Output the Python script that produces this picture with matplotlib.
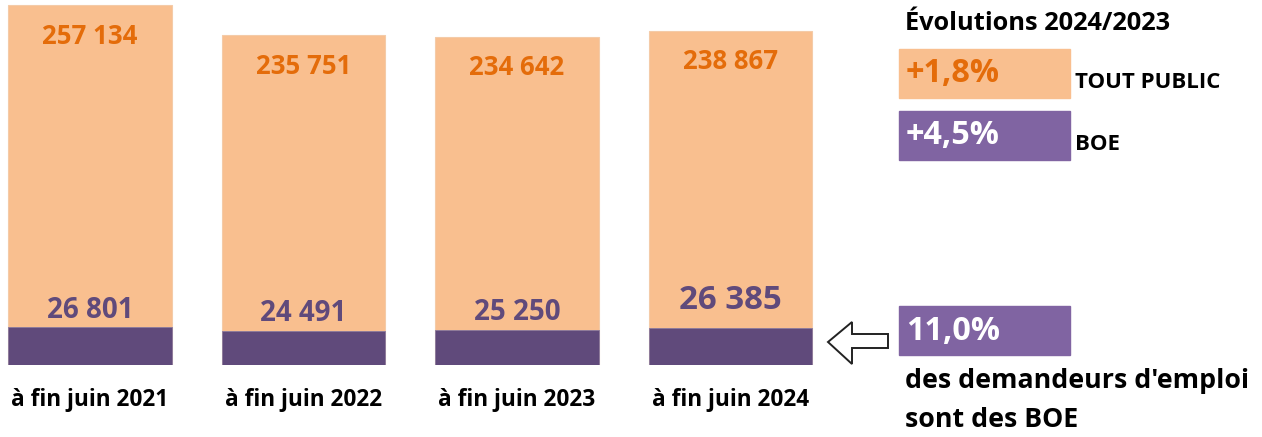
import matplotlib
matplotlib.use("Agg")
import matplotlib.pyplot as plt
from matplotlib.patches import Rectangle, Polygon

# Data
periods = ["à fin juin 2021", "à fin juin 2022", "à fin juin 2023", "à fin juin 2024"]
total_public = [257134, 235751, 234642, 238867]
boe = [26801, 24491, 25250, 26385]
evol_values = ["+1,8%", "+4,5%"]
evol_names = ["TOUT PUBLIC", "BOE"]
boe_share = "11,0%"

ORANGE_FILL = "#F9BF8F"
ORANGE_TEXT = "#E46C0A"
PURPLE_DARK = "#604A7B"
PURPLE_BOX = "#8064A2"

W, H = 1262, 437
plt.rcParams["font.family"] = ["Open Sans", "DejaVu Sans"]
plt.rcParams["font.weight"] = "bold"

fig = plt.figure(figsize=(W / 100, H / 100), dpi=100)


def fx(px):
    return px / W


def fy(py):
    return 1 - py / H


# Bars axes (pixel frame: x 0..830, y 0..365)
ax = fig.add_axes([0, fy(365), fx(830), 365 / H])
step = 213.5
ax.set_xlim(-90 / step, -90 / step + 830 / step)
ax.set_ylim(0, 365 / 0.0014)
ax.axis("off")

x = list(range(len(periods)))
ax.bar(x, total_public, width=0.768, color=ORANGE_FILL, edgecolor="#F4CBA8", linewidth=0.8)
ax.bar(x, boe, width=0.768, color=PURPLE_DARK, edgecolor="#8A7A9E", linewidth=0.6)

for i in x:
    ax.annotate(f"{total_public[i]:,}".replace(",", " "), (i, total_public[i]),
                xytext=(0, -22.5), textcoords="offset points", ha="center", va="center",
                fontsize=18.5, color=ORANGE_TEXT, fontweight="bold")
    big = i == len(x) - 1
    ax.annotate(f"{boe[i]:,}".replace(",", " "), (i, boe[i]),
                xytext=(0, 19.5 if big else 12.5), textcoords="offset points",
                ha="center", va="center", fontsize=23.8 if big else 20,
                color=PURPLE_DARK, fontweight="bold")
    ax.annotate(periods[i], (i, 0), xytext=(0, -25.5), textcoords="offset points",
                ha="center", va="center", fontsize=16.3, color="black",
                fontweight="bold", annotation_clip=False)

# Right-hand panel
fig.text(fx(905), fy(24), "Évolutions 2024/2023", ha="left", va="center",
         fontsize=18.3, fontweight="bold", color="black")

box_tops = [49, 111]
box_fill = [ORANGE_FILL, PURPLE_BOX]
box_text = [ORANGE_TEXT, "white"]
for k in range(2):
    top = box_tops[k]
    fig.patches.append(Rectangle((fx(899), fy(top + 49)), fx(171), 49 / H,
                                 transform=fig.transFigure, color=box_fill[k]))
    fig.text(fx(906), fy(top + 25), evol_values[k], ha="left", va="center",
             fontsize=23.3, fontweight="bold", color=box_text[k])
    fig.text(fx(1075), fy(top + 34), evol_names[k], ha="left", va="center",
             fontsize=16, fontweight="bold", color="black")

fig.patches.append(Rectangle((fx(899), fy(355)), fx(171), 49 / H,
                             transform=fig.transFigure, color=PURPLE_BOX))
fig.text(fx(906), fy(331), boe_share, ha="left", va="center",
         fontsize=23.3, fontweight="bold", color="white")
fig.text(fx(905), fy(381), "des demandeurs d'emploi", ha="left", va="center",
         fontsize=19.3, fontweight="bold", color="black")
fig.text(fx(905), fy(420), "sont des BOE", ha="left", va="center",
         fontsize=19.3, fontweight="bold", color="black")

# Outline arrow pointing at the 2024 bar
arrow_px = [(828, 342), (852, 322), (852, 334), (888, 334),
            (888, 348), (852, 348), (852, 364)]
fig.patches.append(Polygon([(fx(a), fy(b)) for a, b in arrow_px], closed=True,
                           transform=fig.transFigure, facecolor="white",
                           edgecolor="#222222", linewidth=1.4))

fig.savefig("out.png", dpi=100)
